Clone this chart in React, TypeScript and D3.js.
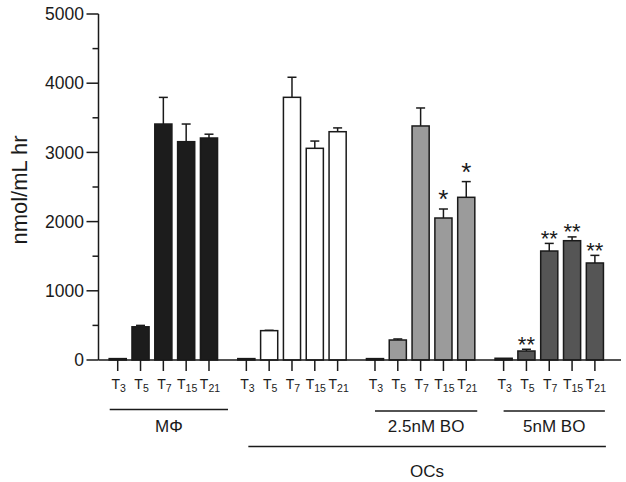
import React from "react";
import * as d3 from "d3";

const groups = ["mac", "oc", "bo25", "bo5"];
const times = ["3", "5", "7", "15", "21"];
const macMeans = [20, 480, 3410, 3155, 3208];
const macErr = [0, 20, 385, 255, 55];
const ocMeans = [20, 424, 3796, 3059, 3299];
const ocErr = [0, 5, 290, 105, 55];
const bo25Means = [20, 289, 3382, 2052, 2351];
const bo25Err = [0, 15, 260, 130, 227];
const bo5Means = [25, 130, 1575, 1724, 1402];
const bo5Err = [0, 25, 110, 55, 110];
const bo25Sig = ["", "", "", "*", "*"];
const bo5Sig = ["", "**", "**", "**", "**"];
const groupFills = ["#1c1c1c", "#ffffff", "#9b9b9b", "#555555"];
const yTicks = [0, 1000, 2000, 3000, 4000, 5000];
const yMinor = [500, 1500, 2500, 3500, 4500];

const series = [
  { means: macMeans, errs: macErr, sig: ["", "", "", "", ""] },
  { means: ocMeans, errs: ocErr, sig: ["", "", "", "", ""] },
  { means: bo25Means, errs: bo25Err, sig: bo25Sig },
  { means: bo5Means, errs: bo5Err, sig: bo5Sig },
];

const FONT = "'Liberation Sans', Arial, Helvetica, sans-serif";

export default function App() {
  const axisX = 98.5;
  const axisY = 360;
  const y = d3.scaleLinear().domain([0, 5000]).range([axisY, 14]);
  const outer = d3
    .scaleBand<string>()
    .domain(groups)
    .range([106.3, 606.3])
    .paddingInner(0.113)
    .paddingOuter(0);
  const inner = d3
    .scaleBand<string>()
    .domain(times)
    .range([0, outer.bandwidth()])
    .paddingInner(0.25)
    .paddingOuter(0.125);
  const bw = inner.bandwidth();
  const xc = (g: number, i: number) =>
    (outer(groups[g]) as number) + (inner(times[i]) as number) + bw / 2;

  const groupLines = [
    { x1: xc(0, 0) - 8, x2: xc(0, 4) + 19, y: 409.5, label: "MΦ", ly: 432 },
    { x1: xc(2, 0), x2: xc(2, 4) + 11, y: 411, label: "2.5nM BO", ly: 432 },
    { x1: xc(3, 0), x2: xc(3, 4) + 10, y: 411, label: "5nM BO", ly: 432 },
    { x1: xc(1, 0) + 2, x2: xc(3, 4) + 11, y: 446.5, label: "OCs", ly: 477 },
  ];

  return (
    <svg
      width={626}
      height={482}
      style={{ position: "absolute", left: 0, top: 0, background: "#fff" }}
      fontFamily={FONT}
    >
      <rect x={0} y={0} width={626} height={482} fill="#fff" />
      {series.map((s, g) =>
        s.means.map((m, i) => {
          const cx = xc(g, i);
          const top = y(m);
          const errTop = y(m + s.errs[i]);
          return (
            <g key={`${g}-${i}`}>
              {s.errs[i] > 0 && (
                <g stroke="#1a1a1a" strokeWidth={1.5}>
                  <line x1={cx} x2={cx} y1={top} y2={errTop} />
                  <line x1={cx - 4.5} x2={cx + 4.5} y1={errTop} y2={errTop} />
                </g>
              )}
              <rect
                x={cx - bw / 2}
                y={top}
                width={bw}
                height={axisY - top}
                fill={groupFills[g]}
                stroke="#1a1a1a"
                strokeWidth={1.5}
              />
              {s.sig[i] === "*" && (
                <text
                  x={cx}
                  y={errTop - 1}
                  textAnchor="middle"
                  fontSize={26}
                  fill="#1a1a1a"
                >
                  *
                </text>
              )}
              {s.sig[i] === "**" && (
                <text
                  x={cx}
                  y={errTop + 2.5}
                  textAnchor="middle"
                  fontSize={22}
                  fill="#1a1a1a"
                >
                  **
                </text>
              )}
            </g>
          );
        })
      )}
      <line x1={axisX} x2={axisX} y1={y(5000)} y2={axisY} stroke="#1a1a1a" strokeWidth={1.5} />
      {yTicks.map((t) => (
        <g key={t}>
          <line x1={axisX - 12} x2={axisX} y1={y(t)} y2={y(t)} stroke="#1a1a1a" strokeWidth={1.5} />
          <text
            x={84}
            y={y(t)}
            dy="0.35em"
            textAnchor="end"
            fontSize={17.5}
            fill="#1a1a1a"
          >
            {t}
          </text>
        </g>
      ))}
      {yMinor.map((t) => (
        <line key={t} x1={axisX - 6} x2={axisX} y1={y(t)} y2={y(t)} stroke="#1a1a1a" strokeWidth={1.5} />
      ))}
      <text
        transform={`translate(27,${190}) rotate(-90)`}
        textAnchor="middle"
        fontSize={22}
        fill="#1a1a1a"
      >
        nmol/mL hr
      </text>
      <line x1={axisX} x2={621} y1={axisY} y2={axisY} stroke="#1a1a1a" strokeWidth={1.5} />
      {groups.map((gk, g) =>
        times.map((t, i) => {
          const cx = xc(g, i);
          return (
            <g key={`${gk}-${t}`}>
              <line x1={cx} x2={cx} y1={axisY} y2={axisY + 11} stroke="#1a1a1a" strokeWidth={1.5} />
              <text x={cx + 1} y={389} textAnchor="middle" fontSize={14} fill="#1a1a1a">
                T
                <tspan fontSize={10.5} dy={3}>
                  {t}
                </tspan>
              </text>
            </g>
          );
        })
      )}
      {groupLines.map((l) => (
        <g key={l.label}>
          <line x1={l.x1} x2={l.x2} y1={l.y} y2={l.y} stroke="#1a1a1a" strokeWidth={1.5} />
          <text
            x={(l.x1 + l.x2) / 2}
            y={l.ly}
            textAnchor="middle"
            fontSize={17}
            fill="#1a1a1a"
          >
            {l.label}
          </text>
        </g>
      ))}
    </svg>
  );
}
